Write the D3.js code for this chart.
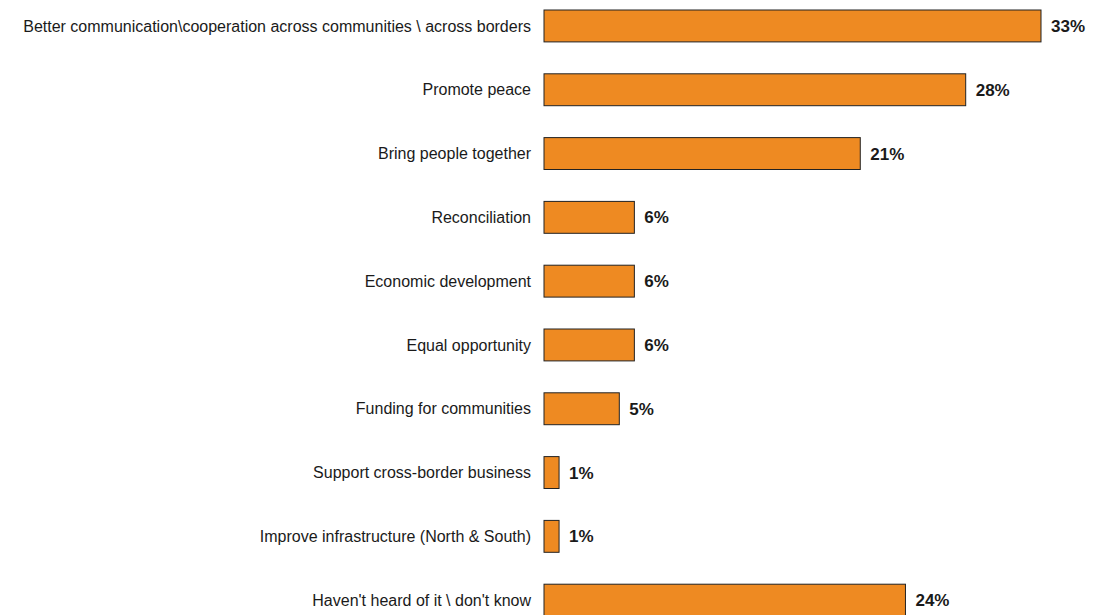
<!DOCTYPE html>
<html><head><meta charset="utf-8">
<script src="https://cdn.jsdelivr.net/npm/d3@7"></script>
<style>body{margin:0;background:#fff}svg{display:block}</style>
</head><body>
<svg id="c" width="1093" height="615"></svg>
<script>
const categories = [
  "Better communication\\cooperation across communities \\ across borders",
  "Promote peace",
  "Bring people together",
  "Reconciliation",
  "Economic development",
  "Equal opportunity",
  "Funding for communities",
  "Support cross-border business",
  "Improve infrastructure (North & South)",
  "Haven't heard of it \\ don't know"
];
const values = [33, 28, 21, 6, 6, 6, 5, 1, 1, 24];
const valueLabels = ["33%", "28%", "21%", "6%", "6%", "6%", "5%", "1%", "1%", "24%"];

const svg = d3.select("#c");
const x = d3.scaleLinear().domain([0, 33]).range([544, 1041]);
const y = d3.scaleBand().domain(categories).range([-21.9, 648.0]).paddingInner(0.5).paddingOuter(0.5);

const data = categories.map((c, i) => ({c, v: values[i], l: valueLabels[i]}));

svg.selectAll("rect.bar").data(data).join("rect")
  .attr("class", "bar")
  .attr("x", x(0))
  .attr("y", d => y(d.c))
  .attr("width", d => x(d.v) - x(0))
  .attr("height", y.bandwidth())
  .attr("fill", "#EE8A22")
  .attr("stroke", "#222")
  .attr("stroke-width", 1);

svg.selectAll("text.cat").data(data).join("text")
  .attr("class", "cat")
  .attr("x", 531)
  .attr("y", d => y(d.c) + y.bandwidth() / 2)
  .attr("dy", "0.35em")
  .attr("text-anchor", "end")
  .attr("font-family", "Arial, 'Liberation Sans', sans-serif")
  .attr("font-size", 16)
  .attr("fill", "#1a1a1a")
  .text(d => d.c);

svg.selectAll("text.val").data(data).join("text")
  .attr("class", "val")
  .attr("x", d => x(d.v) + 10)
  .attr("y", d => y(d.c) + y.bandwidth() / 2)
  .attr("dy", "0.35em")
  .attr("font-family", "Arial, 'Liberation Sans', sans-serif")
  .attr("font-size", 17)
  .attr("font-weight", "bold")
  .attr("fill", "#1a1a1a")
  .text(d => d.l);
</script>
</body></html>
